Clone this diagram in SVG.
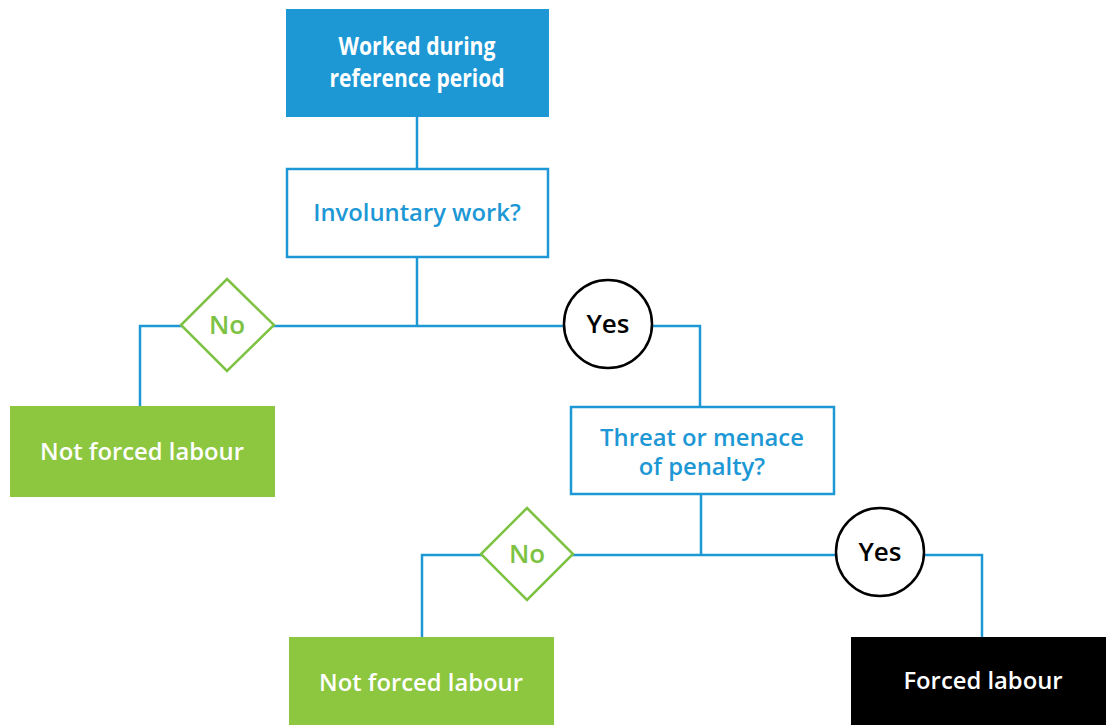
<svg xmlns="http://www.w3.org/2000/svg" width="1106" height="725" viewBox="0 0 1106 725">
<style>
text{font-family:"Open Sans","Noto Sans","Liberation Sans",sans-serif;text-anchor:middle}
.conn{fill:none;stroke:#1d98d5;stroke-width:2.5}
.q{fill:#fff;stroke:#1d98d5;stroke-width:2.5}
.qt{fill:#1d98d5;font-size:23.8px;font-weight:600}
.green{fill:#8dc63f}
.wt{fill:#fff;font-size:23.8px;font-weight:600}
.dia{fill:#fff;stroke:#7dc242;stroke-width:2.5}
.not{fill:#7dc242;font-size:26px;font-weight:600}
.yc{fill:#fff;stroke:#000;stroke-width:2.5}
.yt{fill:#000;font-size:26px;font-weight:600}
.st{fill:#fff;font-size:25px;font-weight:700}
</style>
<rect width="1106" height="725" fill="#fff"/>
<g id="connectors">
<path class="conn" d="M417 117V169"/>
<path class="conn" d="M417 257V326"/>
<path class="conn" d="M140 406V326H700V407"/>
<path class="conn" d="M701 494V555"/>
<path class="conn" d="M422 637V555H982V637"/>
</g>
<g id="start">
<rect x="286" y="9" width="263" height="108" fill="#1d98d5"/>
<text class="st" x="417" y="55" textLength="157" lengthAdjust="spacingAndGlyphs">Worked during</text>
<text class="st" x="417" y="87" textLength="175" lengthAdjust="spacingAndGlyphs">reference period</text>
</g>
<g id="q1">
<rect class="q" x="287" y="169" width="261" height="88"/>
<text class="qt" x="417" y="221">Involuntary work?</text>
</g>
<g id="no1">
<polygon class="dia" points="227,279 274,325 227,371 181,325"/>
<text class="not" x="227" y="334">No</text>
</g>
<g id="yes1">
<circle class="yc" cx="608" cy="324" r="44"/>
<text class="yt" x="608" y="333">Yes</text>
</g>
<g id="notforced1">
<rect class="green" x="10" y="406" width="265" height="91"/>
<text class="wt" x="142" y="460">Not forced labour</text>
</g>
<g id="q2">
<rect class="q" x="571" y="407" width="263" height="87"/>
<text class="qt" x="702" y="446">Threat or menace</text>
<text class="qt" x="702" y="475">of penalty?</text>
</g>
<g id="no2">
<polygon class="dia" points="527,508 573,554 527,600 481,554"/>
<text class="not" x="527" y="563">No</text>
</g>
<g id="yes2">
<circle class="yc" cx="880" cy="552" r="44"/>
<text class="yt" x="880" y="561">Yes</text>
</g>
<g id="notforced2">
<rect class="green" x="289" y="637" width="265" height="88"/>
<text class="wt" x="421" y="691">Not forced labour</text>
</g>
<g id="forced">
<rect x="851" y="637" width="255" height="88" fill="#000"/>
<text class="wt" x="983" y="689">Forced labour</text>
</g>
</svg>
